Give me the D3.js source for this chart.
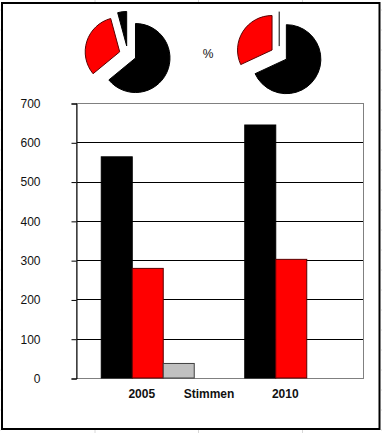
<!DOCTYPE html>
<html>
<head>
<meta charset="utf-8">
<script src="https://cdn.jsdelivr.net/npm/d3@7"></script>
<style>
  html, body { margin: 0; padding: 0; background: #fff; }
  svg { display: block; }
</style>
</head>
<body>
<div id="chart"></div>
<script>
// Data
const years = ["2005", "2010"];
const seriesNames = ["black", "red", "gray"];
const blackValues = [563, 644];
const redValues = [279, 302];
const grayValues = [37, 0];
const yTicks = [0, 100, 200, 300, 400, 500, 600, 700];
const axisTitle = "Stimmen";
const pieLabel = "%";

const width = 382;
const height = 433;

const svg = d3.select("#chart")
    .append("svg")
    .attr("width", width)
    .attr("height", height);

// faint worksheet cell lines outside the chart frame
const cellCols = [95, 198.5, 302.5];
const cellRows = d3.range(10, height, 20);
cellCols.forEach(x => {
    svg.append("line").attr("x1", x).attr("x2", x).attr("y1", 0).attr("y2", 2)
        .attr("stroke", "#d8d8d8");
    svg.append("line").attr("x1", x).attr("x2", x).attr("y1", 430).attr("y2", height)
        .attr("stroke", "#d8d8d8");
});
cellRows.forEach(y => {
    svg.append("line").attr("x1", 381).attr("x2", width).attr("y1", y).attr("y2", y)
        .attr("stroke", "#d8d8d8");
    svg.append("line").attr("x1", 0).attr("x2", 1).attr("y1", y).attr("y2", y)
        .attr("stroke", "#e4e4e4");
});

// chart frame
svg.append("rect")
    .attr("x", 2).attr("y", 3)
    .attr("width", 377.5).attr("height", 426)
    .attr("fill", "#fff")
    .attr("stroke", "#000")
    .attr("stroke-width", 2);

// plot area
const plot = { left: 76, right: 363, top: 103, bottom: 378 };

const y = d3.scaleLinear()
    .domain([0, 700])
    .range([plot.bottom, plot.top]);

const x0 = d3.scaleBand()
    .domain(years)
    .range([plot.left, plot.right]);

const x1 = d3.scaleBand()
    .domain(seriesNames)
    .range([0, x0.bandwidth()])
    .paddingOuter(0.815);

const colors = { black: "#000000", red: "#ff0000", gray: "#c0c0c0" };
const strokes = { black: "#000000", red: "#5a0000", gray: "#404040" };

// gridlines
svg.append("g")
    .selectAll("line")
    .data(yTicks.filter(d => d > 0 && d < 700))
    .enter()
    .append("line")
    .attr("x1", plot.left).attr("x2", plot.right)
    .attr("y1", d => Math.round(y(d)) + 0.5)
    .attr("y2", d => Math.round(y(d)) + 0.5)
    .attr("stroke", "#000");

// plot border (gray top / right / bottom)
svg.append("rect")
    .attr("x", plot.left + 0.5).attr("y", plot.top + 0.5)
    .attr("width", plot.right - plot.left).attr("height", plot.bottom - plot.top)
    .attr("fill", "none")
    .attr("stroke", "#808080");

// bars
const rows = years.map((yr, i) => ({
    year: yr,
    values: [
        { key: "black", value: blackValues[i] },
        { key: "red", value: redValues[i] },
        { key: "gray", value: grayValues[i] }
    ]
}));

svg.append("g")
    .selectAll("g")
    .data(rows)
    .enter()
    .append("g")
    .attr("transform", d => `translate(${x0(d.year)},0)`)
    .selectAll("rect")
    .data(d => d.values.filter(v => v.value > 0))
    .enter()
    .append("rect")
    .attr("x", d => x1(d.key))
    .attr("y", d => y(d.value))
    .attr("width", x1.bandwidth())
    .attr("height", d => y(0) - y(d.value))
    .attr("fill", d => colors[d.key])
    .attr("stroke", d => strokes[d.key])
    .attr("stroke-width", 1);

// y axis
const yAxis = d3.axisLeft(y)
    .tickValues(yTicks)
    .tickSize(5)
    .tickPadding(31)
    .tickFormat(d3.format("d"));

const yAxisG = svg.append("g")
    .attr("transform", `translate(${plot.left + 0.5},0.5)`)
    .call(yAxis);
yAxisG.select(".domain").attr("stroke", "#000");
yAxisG.selectAll(".tick line").attr("stroke", "#000");
yAxisG.selectAll("text")
    .attr("font-family", "Liberation Sans, Arial, sans-serif")
    .attr("font-size", 12)
    .attr("fill", "#111");

// category labels
svg.append("g")
    .selectAll("text")
    .data(years)
    .enter()
    .append("text")
    .attr("x", d => x0(d) + x0.bandwidth() / 2 - 6)
    .attr("y", 398)
    .attr("text-anchor", "middle")
    .attr("font-family", "Liberation Sans, Arial, sans-serif")
    .attr("font-size", 12)
    .attr("font-weight", "bold")
    .attr("fill", "#111")
    .text(d => d);

svg.append("text")
    .attr("x", 209)
    .attr("y", 398)
    .attr("text-anchor", "middle")
    .attr("font-family", "Liberation Sans, Arial, sans-serif")
    .attr("font-size", 12)
    .attr("font-weight", "bold")
    .attr("fill", "#111")
    .text(axisTitle);

// pies
const pieCenters = [[127.8, 54.4], [279.2, 54.6]];
const radius = 34.5;
const explode = 8.5;
const pieColors = ["#000000", "#ff0000", "#000000"];
const pieStrokes = ["#000000", "#5a0000", "#000000"];

const pie = d3.pie().sort(null).value(d => d);
const arc = d3.arc().innerRadius(0).outerRadius(radius);

years.forEach((yr, i) => {
    const vals = [blackValues[i], redValues[i], grayValues[i]];
    const g = svg.append("g")
        .attr("transform", `translate(${pieCenters[i][0]},${pieCenters[i][1]})`);
    g.selectAll("path")
        .data(pie(vals))
        .enter()
        .append("path")
        .attr("transform", d => {
            const a = (d.startAngle + d.endAngle) / 2;
            return `translate(${explode * Math.sin(a)},${-explode * Math.cos(a)})`;
        })
        .attr("d", d => d.endAngle > d.startAngle
            ? arc(d)
            : `M0,0L${radius * Math.sin(d.startAngle)},${-radius * Math.cos(d.startAngle)}`)
        .attr("fill", (d, j) => pieColors[j])
        .attr("stroke", (d, j) => pieStrokes[j])
        .attr("stroke-width", 1);
});

svg.append("text")
    .attr("x", 208)
    .attr("y", 58)
    .attr("text-anchor", "middle")
    .attr("font-family", "Liberation Sans, Arial, sans-serif")
    .attr("font-size", 12)
    .attr("fill", "#111")
    .text(pieLabel);
</script>
</body>
</html>
